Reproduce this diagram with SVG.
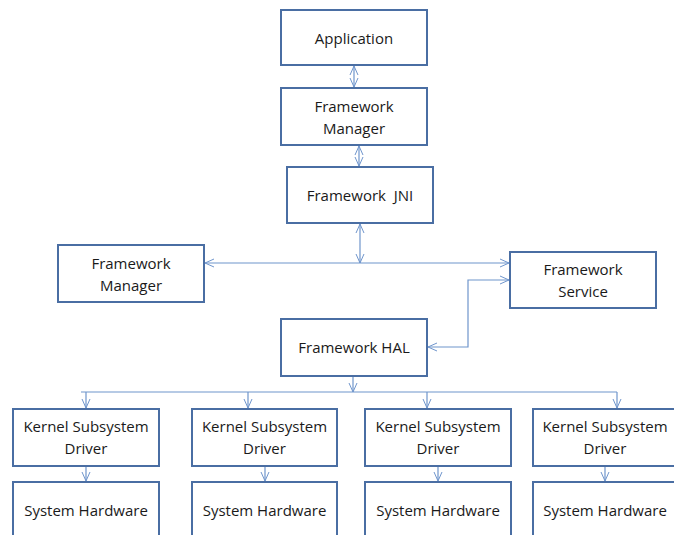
<svg xmlns="http://www.w3.org/2000/svg" width="674" height="535" viewBox="0 0 674 535">
  <defs>
    <marker id="arr" viewBox="0 0 10 10" refX="10" refY="5" markerWidth="10" markerHeight="10" markerUnits="userSpaceOnUse" orient="auto-start-reverse">
      <path d="M1,1 L10,5 L1,9" fill="none" stroke="#6F95CC" stroke-width="1"/>
    </marker>
    <style>
      .box { fill: #ffffff; stroke: #4A6EA3; stroke-width: 2; }
      .lbl { font-family: "Open Sans", "Liberation Sans", sans-serif; font-size: 15px; fill: #1a1a1a; text-anchor: middle; }
      .con { fill: none; stroke: #6F95CC; stroke-width: 1.2; }
      .dbl { marker-start: url(#arr); marker-end: url(#arr); }
      .one { marker-end: url(#arr); }
    </style>
  </defs>
  <rect width="674" height="535" fill="#ffffff"/>

  <g id="connectors">
    <path class="con dbl" d="M354,66 V87"/>
    <path class="con dbl" d="M359,146 V166"/>
    <path class="con dbl" d="M360,224 V263"/>
    <path class="con dbl" d="M205,263 H509"/>
    <path class="con dbl" d="M428,347 H468 V280 H509"/>
    <path class="con one" d="M353,377 V392"/>
    <path class="con" d="M81,392 H617"/>
    <path class="con one" d="M86,392 V408"/>
    <path class="con one" d="M248,392 V408"/>
    <path class="con one" d="M427,392 V408"/>
    <path class="con one" d="M617,392 V408"/>
    <path class="con one" d="M86,467 V481"/>
    <path class="con one" d="M265,467 V481"/>
    <path class="con one" d="M438,467 V481"/>
    <path class="con one" d="M605,467 V481"/>
  </g>

  <g id="application">
    <rect class="box" x="281" y="10" width="146" height="55"/>
    <text class="lbl" x="354" y="44">Application</text>
  </g>
  <g id="framework-manager-top">
    <rect class="box" x="281" y="88" width="146" height="57"/>
    <text class="lbl" x="354" y="112">Framework</text>
    <text class="lbl" x="354" y="134">Manager</text>
  </g>
  <g id="framework-jni">
    <rect class="box" x="287" y="167" width="146" height="56"/>
    <text class="lbl" x="360" y="201" xml:space="preserve">Framework  JNI</text>
  </g>
  <g id="framework-manager-left">
    <rect class="box" x="58" y="245" width="146" height="57"/>
    <text class="lbl" x="131" y="269">Framework</text>
    <text class="lbl" x="131" y="291">Manager</text>
  </g>
  <g id="framework-service">
    <rect class="box" x="510" y="252" width="146" height="56"/>
    <text class="lbl" x="583" y="275">Framework</text>
    <text class="lbl" x="583" y="297">Service</text>
  </g>
  <g id="framework-hal">
    <rect class="box" x="281" y="319" width="146" height="57"/>
    <text class="lbl" x="354" y="353">Framework HAL</text>
  </g>

  <g id="kernel-1">
    <rect class="box" x="13" y="409" width="146" height="57"/>
    <text class="lbl" x="86" y="432">Kernel Subsystem</text>
    <text class="lbl" x="86" y="454">Driver</text>
  </g>
  <g id="kernel-2">
    <rect class="box" x="192" y="409" width="145" height="57"/>
    <text class="lbl" x="264.5" y="432">Kernel Subsystem</text>
    <text class="lbl" x="264.5" y="454">Driver</text>
  </g>
  <g id="kernel-3">
    <rect class="box" x="365" y="409" width="146" height="57"/>
    <text class="lbl" x="438" y="432">Kernel Subsystem</text>
    <text class="lbl" x="438" y="454">Driver</text>
  </g>
  <g id="kernel-4">
    <rect class="box" x="533" y="409" width="146" height="57"/>
    <text class="lbl" x="605" y="432">Kernel Subsystem</text>
    <text class="lbl" x="605" y="454">Driver</text>
  </g>

  <g id="hardware-1">
    <rect class="box" x="13" y="482" width="146" height="60"/>
    <text class="lbl" x="86" y="516">System Hardware</text>
  </g>
  <g id="hardware-2">
    <rect class="box" x="192" y="482" width="145" height="60"/>
    <text class="lbl" x="264.5" y="516">System Hardware</text>
  </g>
  <g id="hardware-3">
    <rect class="box" x="365" y="482" width="146" height="60"/>
    <text class="lbl" x="438" y="516">System Hardware</text>
  </g>
  <g id="hardware-4">
    <rect class="box" x="533" y="482" width="146" height="60"/>
    <text class="lbl" x="605" y="516">System Hardware</text>
  </g>
</svg>
